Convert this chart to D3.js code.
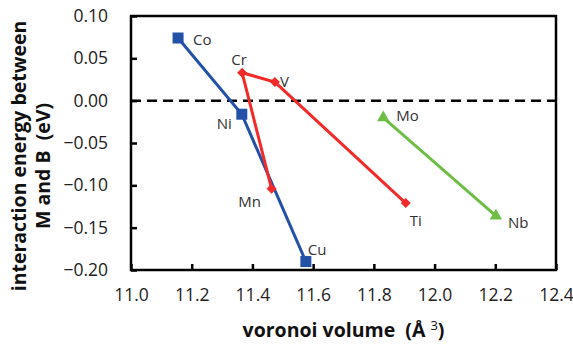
<!DOCTYPE html>
<html>
<head>
<meta charset="utf-8">
<script src="https://cdn.jsdelivr.net/npm/d3@7"></script>
<style>
  body { margin: 0; background: #fff; }
  svg { font-family: "Open Sans", sans-serif; }
</style>
</head>
<body>
<div id="chart"></div>
<script>
// data
const coNames = ["Co", "Ni", "Cu"];
const coVolume = [11.155, 11.365, 11.576];
const coEnergy = [0.074, -0.016, -0.190];

const crNames = ["Mn", "Cr", "V", "Ti"];
const crVolume = [11.463, 11.366, 11.474, 11.905];
const crEnergy = [-0.104, 0.033, 0.022, -0.121];

const moNames = ["Mo", "Nb"];
const moVolume = [11.831, 12.202];
const moEnergy = [-0.020, -0.136];

const xTicks = [11.0, 11.2, 11.4, 11.6, 11.8, 12.0, 12.2, 12.4];
const yTicks = [0.10, 0.05, 0.00, -0.05, -0.10, -0.15, -0.20];

// label placement (pixel offsets from the marker)
const labelOffsets = {
  Co: [15, 7, "start"], Ni: [-10, 15, "end"], Cu: [2, -7, "start"],
  Mn: [-22, 18, "middle"], Cr: [-3, -8, "middle"], V: [5, 5, "start"], Ti: [4, 23, "start"],
  Mo: [13, 3, "start"], Nb: [12, 12, "start"]
};

const series = [
  { names: coNames, x: coVolume, y: coEnergy, color: "#2451A8", marker: "square" },
  { names: crNames, x: crVolume, y: crEnergy, color: "#F22A2A", marker: "diamond" },
  { names: moNames, x: moVolume, y: moEnergy, color: "#6EBE46", marker: "triangle" }
];

const width = 573, height = 347;
const margin = { top: 16, right: 17, bottom: 77, left: 131 };

const svg = d3.select("#chart").append("svg")
  .attr("width", width)
  .attr("height", height);

const x = d3.scaleLinear().domain([11.0, 12.4]).range([margin.left, width - margin.right]);
const y = d3.scaleLinear().domain([-0.20, 0.10]).range([height - margin.bottom, margin.top]);

// zero line
svg.append("line")
  .attr("x1", x(11.0)).attr("x2", x(12.4))
  .attr("y1", y(0)).attr("y2", y(0))
  .attr("stroke", "#000")
  .attr("stroke-width", 2.5)
  .attr("stroke-dasharray", "10,6");

// axes with inward ticks
const xAxis = svg.append("g")
  .attr("transform", `translate(0,${y(-0.20)})`)
  .call(d3.axisBottom(x).tickValues(xTicks).tickSize(-6).tickPadding(19).tickFormat(d3.format(".1f")));

const yAxis = svg.append("g")
  .attr("transform", `translate(${x(11.0)},0)`)
  .call(d3.axisLeft(y).tickValues(yTicks).tickSize(-6).tickPadding(23).tickFormat(d3.format(".2f")));

[xAxis, yAxis].forEach(g => {
  g.select(".domain").remove();
  g.selectAll(".tick line").attr("stroke", "#000").attr("stroke-width", 2.5);
  g.selectAll(".tick text")
    .attr("fill", "#222")
    .style("font-family", "'Open Sans', sans-serif")
    .style("font-size", "17.5px");
});

// plot frame
svg.append("rect")
  .attr("x", x(11.0)).attr("y", y(0.10))
  .attr("width", x(12.4) - x(11.0))
  .attr("height", y(-0.20) - y(0.10))
  .attr("fill", "none")
  .attr("stroke", "#000")
  .attr("stroke-width", 2.5);

const line = d3.line().x(d => x(d[0])).y(d => y(d[1]));
const symbols = {
  square: d3.symbol().type(d3.symbolSquare).size(121),
  diamond: d3.symbol().type(d3.symbolSquare).size(50),
  triangle: d3.symbol().type(d3.symbolTriangle).size(66)
};

series.forEach(s => {
  const pts = s.x.map((v, i) => [v, s.y[i], s.names[i]]);

  svg.append("path")
    .datum(pts)
    .attr("d", line)
    .attr("fill", "none")
    .attr("stroke", s.color)
    .attr("stroke-width", 3);

  svg.selectAll(null)
    .data(pts)
    .join("path")
    .attr("d", symbols[s.marker])
    .attr("transform", d => `translate(${x(d[0])},${y(d[1])})` + (s.marker === "diamond" ? " rotate(45)" : ""))
    .attr("fill", s.color);

  svg.selectAll(null)
    .data(pts)
    .join("text")
    .attr("x", d => x(d[0]) + labelOffsets[d[2]][0])
    .attr("y", d => y(d[1]) + labelOffsets[d[2]][1])
    .attr("text-anchor", d => labelOffsets[d[2]][2])
    .style("font-size", "15px")
    .attr("fill", "#333")
    .text(d => d[2]);
});

// axis titles
svg.append("text")
  .attr("x", x(11.7))
  .attr("y", 337)
  .attr("text-anchor", "middle")
  .style("font-size", "19.5px")
  .style("font-weight", "bold")
  .attr("fill", "#111")
  .html("voronoi volume&#160;&#160;(Å&#160;<tspan dy='-7' style='font-size:13px;font-weight:normal'>3</tspan><tspan dy='7'>)</tspan>");

const yTitle = svg.append("text")
  .attr("transform", "translate(0,156) rotate(-90)")
  .attr("text-anchor", "middle")
  .style("font-size", "19.5px")
  .style("font-weight", "bold")
  .attr("fill", "#111");
yTitle.append("tspan").attr("x", 0).attr("y", 26).text("interaction energy between");
yTitle.append("tspan").attr("x", -10).attr("y", 50).html("M and B&#160;&#160;(eV)");
</script>
</body>
</html>
